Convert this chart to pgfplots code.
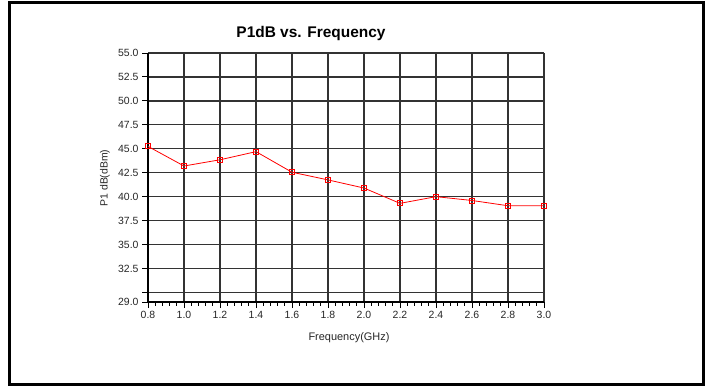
\documentclass[border=0pt]{standalone}
\usepackage{pgfplots}
\pgfplotsset{compat=1.18}
\usepackage{fontspec}
\setmainfont{Liberation Sans}
\begin{document}
\begin{tikzpicture}[x=1bp,y=1bp]
\useasboundingbox (0,0) rectangle (712,387);
\draw[line width=3bp] (9.5,2.5) rectangle (703,384.5);
\begin{axis}[
  at={(148bp,85bp)}, anchor=south west,
  scale only axis, width=396bp, height=249bp,
  xmin=0.8, xmax=3.0, ymin=29, ymax=55,
  xtick={0.8,1.0,1.2,1.4,1.6,1.8,2.0,2.2,2.4,2.6,2.8,3.0},
  xticklabels={0.8,1.0,1.2,1.4,1.6,1.8,2.0,2.2,2.4,2.6,2.8,3.0},
  ytick={29,30,32.5,35,37.5,40,42.5,45,47.5,50,52.5,55},
  yticklabels={29.0,,32.5,35.0,37.5,40.0,42.5,45.0,47.5,50.0,52.5,55.0},
  minor x tick num=4,
  axis x line*=bottom, axis y line*=left,
  axis line style={-, black, line width=1.1bp},
  tick align=outside,
  major tick length=6bp, minor tick length=3.5bp,
  every tick/.style={black, line width=0.9bp},
  grid=major,
  major grid style={black!80, line width=1.3bp},
  ticklabel style={font=\fontsize{10.5}{12}\selectfont, text=black!85},
  /pgf/number format/assume math mode=true,
  clip=false,
]
\addplot[red, line width=0.8bp, mark=square, mark size=2.5bp, mark options={solid}]
coordinates {
(0.8,45.25) (1.0,43.2) (1.2,43.85) (1.4,44.7) (1.6,42.55) (1.8,41.75)
(2.0,40.9) (2.2,39.3) (2.4,40.0) (2.6,39.6) (2.8,39.05) (3.0,39.05)
};
\end{axis}
\node[anchor=base, font=\fontsize{15.5}{18}\selectfont\bfseries] at (311,350) {P1dB vs. Frequency};
\node[anchor=base, font=\fontsize{11}{13}\selectfont, text=black!85] at (349,46.3) {Frequency(GHz)};
\node[rotate=90, font=\fontsize{10.5}{12}\selectfont, text=black!85] at (105,209) {P1 dB(dBm)};
\end{tikzpicture}
\end{document}
